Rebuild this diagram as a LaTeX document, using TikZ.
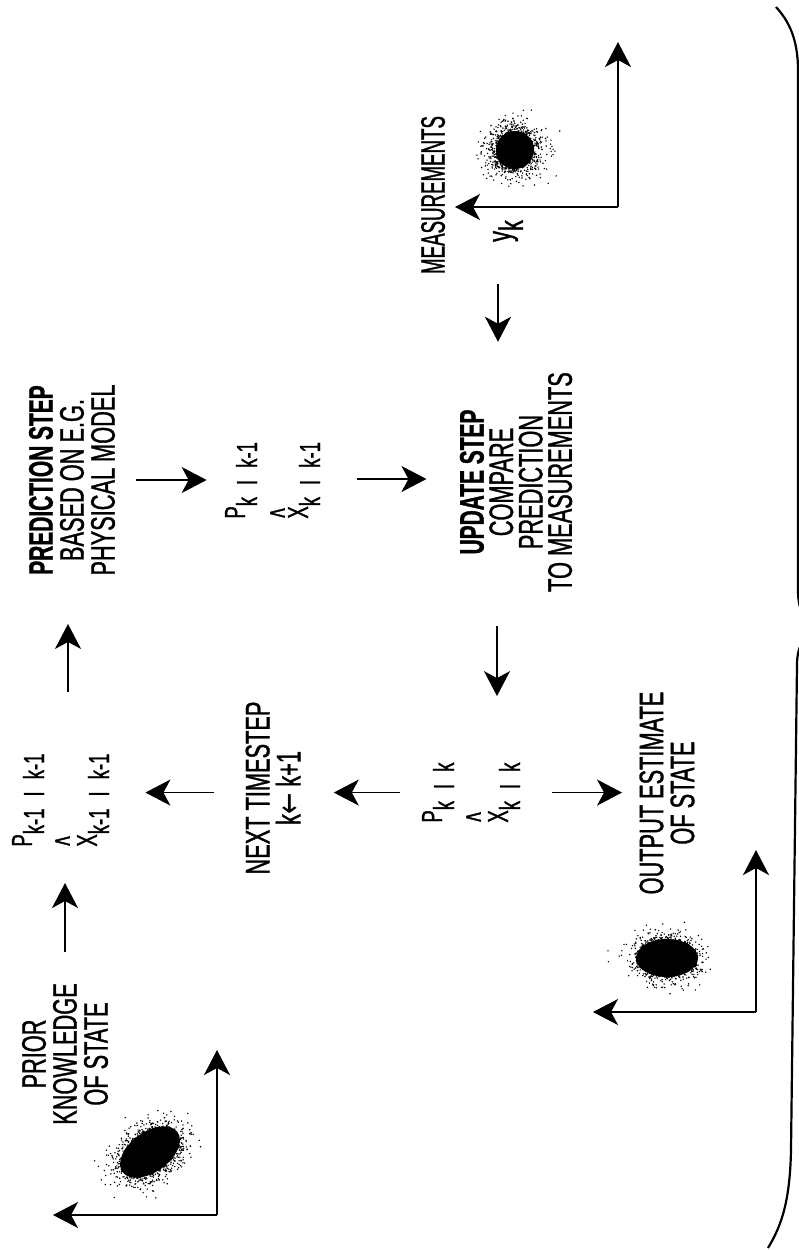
\documentclass[tikz,border=0pt]{standalone}
\usepackage{fontspec}
\usetikzlibrary{arrows.meta,calc}
\newfontfamily\cond[FakeStretch=0.64,FakeBold=1]{Liberation Sans}
\newfontfamily\condb[FakeStretch=0.615,FakeBold=1]{Liberation Sans}
\newfontfamily\condn[FakeStretch=0.55,FakeBold=1]{Liberation Sans}
\newfontfamily\arrfont[FakeStretch=0.75]{DejaVu Sans}
\newfontfamily\hatfont[FakeStretch=0.5,FakeBold=1]{Liberation Sans}
\newcommand\subl[1]{\raisebox{-6pt}{#1}}
\newcommand\blobdots[7]{%
  \pgfmathsetseed{#7}%
  \foreach \i in {1,...,#6}{%
    \pgfmathsetmacro\blr{sqrt(-2*ln(max(rnd,0.0005)))}%
    \pgfmathsetmacro\blth{360*rnd}%
    \pgfmathsetmacro\bldu{#3*\blr*cos(\blth)}%
    \pgfmathsetmacro\bldv{#4*\blr*sin(\blth)}%
    \pgfmathsetmacro\blpx{#1+\bldu*cos(#5)-\bldv*sin(#5)}%
    \pgfmathsetmacro\blpy{#2-(\bldu*sin(#5)+\bldv*cos(#5))}%
    \fill (\blpx,\blpy) circle (0.8);
  }}
\tikzset{
  lbl/.style={rotate=90, align=center, inner sep=0pt, font=\cond\fontsize{17}{15.5}\selectfont},
  fml/.style={rotate=90, inner sep=0pt, anchor=base west, font=\cond\fontsize{14.5}{17}\selectfont},
  hatn/.style={rotate=90, inner sep=0pt, anchor=north, font=\hatfont\fontsize{20}{22}\selectfont},
  arr/.style={line width=0.9pt, -{Stealth[length=12.5pt,width=13pt,inset=3.5pt]}},
  brace/.style={line width=1.1pt},
}
\begin{document}
\begin{tikzpicture}[x=0.5pt,y=-0.5pt]
\fill[white] (0,0) rectangle (799,1250);
\useasboundingbox (0,0) rectangle (799,1250);

% text nodes
\node[lbl] (pred) at (72,480) {{\condb\bfseries PREDICTION STEP}\\BASED ON E.G.\\PHYSICAL MODEL};
\node[lbl, font=\cond\fontsize{17}{14.7}\selectfont] (upd) at (516,482) {{\condb\bfseries UPDATE STEP}\\COMPARE\\PREDICTION\\TO MEASUREMENTS};
\node[lbl, font=\condn\fontsize{17}{15.5}\selectfont] (meas) at (433,195) {MEASUREMENTS};
\node[lbl] (yk) at (508,231) {y\subl{k}};
\node[lbl] (next) at (273,788) {NEXT TIMESTEP\\k{\arrfont ←} k+1};
\node[lbl] (out) at (667,793) {OUTPUT ESTIMATE\\OF STATE};
\node[lbl] (prior) at (65,1054) {PRIOR\\KNOWLEDGE\\OF STATE};

% state estimates: P line, hat, X line
\node[fml] (pk1k1) at (32,847) {P\subl{k-1\hspace{6pt}I\hspace{6pt}k-1}};
\node[hatn] (pk1k1h) at (55,841) {\textasciicircum};
\node[fml] (pk1k1x) at (97,847) {X\subl{k-1\hspace{6pt}I\hspace{6pt}k-1}};

\node[fml] (pkk1) at (245,519) {P\subl{k\hspace{6pt}I\hspace{6pt}k-1}};
\node[hatn] (pkk1h) at (270,513) {\textasciicircum};
\node[fml] (pkk1x) at (308,519) {X\subl{k\hspace{6pt}I\hspace{6pt}k-1}};

\node[fml] (pkk) at (442,823) {P\subl{k\hspace{6pt}I\hspace{6pt}k}};
\node[hatn] (pkkh) at (466,817) {\textasciicircum};
\node[fml] (pkkx) at (508,823) {X\subl{k\hspace{6pt}I\hspace{6pt}k}};

% connectors
\draw[arr, shorten <=15.5pt, shorten >=18pt] (prior.east) -- (prior.east |- pk1k1x.west);
\draw[arr, shorten <=30.5pt, shorten >=24pt] ([xshift=-2pt]pred.west |- pk1k1x.east) -- ([xshift=-2pt]pred.west);
\draw[arr, shorten <=10.5pt, shorten >=9pt] (pred.south) -- (pred.south -| pkk1.north);
\draw[arr, shorten <=18.5pt, shorten >=16.5pt] ([yshift=1.5pt]upd.north -| pkk1x.south) -- ([yshift=1.5pt]upd.north);
\draw[arr, shorten <=21pt, shorten >=15pt] ([xshift=-5pt]yk.west) -- ([xshift=-5pt]yk.west |- upd.east);
\draw[arr, shorten <=17pt, shorten >=33pt] ([xshift=-9.5pt]upd.west) -- ([xshift=-9.5pt]upd.west |- pkk.east);
\draw[arr, shorten <=11pt, shorten >=16.5pt] (pkk.north) -- (pkk.north -| next.south);
\draw[arr, shorten <=15.5pt, shorten >=18pt] (pkk.north -| next.north) -- (pkk.north -| pk1k1x.south);
\draw[arr, shorten <=16pt, shorten >=8.5pt] (pkk.south -| pkkx.south) -- (pkk.south -| out.north);

% axes
\coordinate (mc) at (618,207);
\draw[arr] (mc) -- (618,42);
\draw[arr] (mc) -- (455,207);
\coordinate (oc) at (756,1012);
\draw[arr] (oc) -- (756,850);
\draw[arr] (oc) -- (593,1012);
\coordinate (pc) at (217,1215);
\draw[arr] (pc) -- (217,1050);
\draw[arr] (pc) -- (53,1215);

% blobs
\fill (515,150) circle (19);
\blobdots{515}{150}{12.5}{12.5}{0}{1500}{11}
\fill[rotate around={36:(150,1152)}] (150,1152) ellipse [x radius=34, y radius=20];
\blobdots{150}{1152}{17}{11.5}{36}{2200}{23}
\fill (667,958) ellipse [x radius=31, y radius=19];
\blobdots{667}{958}{15.5}{10.5}{0}{1700}{37}

% brace
\begin{scope}
\clip (0,0) rectangle (799,1250);
\draw[brace] (776,7) .. controls (788,20) and (798,38) .. (798,70) -- (798,590) .. controls (798,612) and (805,622) .. (820,626);
\draw[brace] (820,628) .. controls (805,633) and (797,645) .. (797,665) -- (791,1150) .. controls (790,1200) and (782,1225) .. (768,1248);
\end{scope}
\end{tikzpicture}
\end{document}
